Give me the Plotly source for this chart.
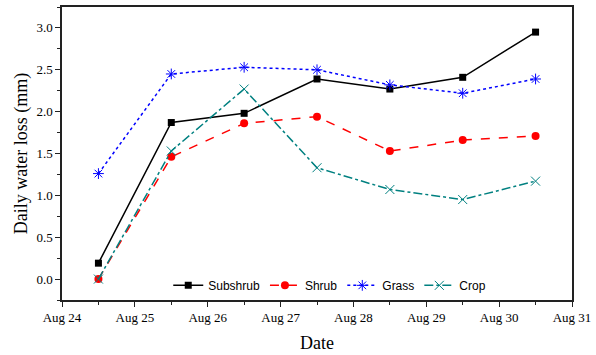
import plotly.graph_objects as go

dates = ["2013-08-24 12:00", "2013-08-25 12:00", "2013-08-26 12:00", "2013-08-27 12:00",
         "2013-08-28 12:00", "2013-08-29 12:00", "2013-08-30 12:00"]
subshrub = [0.19, 1.87, 1.98, 2.39, 2.27, 2.41, 2.95]
shrub = [0.0, 1.46, 1.86, 1.94, 1.53, 1.66, 1.71]
grass = [1.26, 2.45, 2.53, 2.50, 2.32, 2.22, 2.39]
crop = [0.0, 1.53, 2.27, 1.33, 1.07, 0.95, 1.17]

fig = go.Figure()
fig.add_trace(go.Scatter(x=dates, y=subshrub, name="Subshrub", mode="lines+markers",
                         line=dict(color="black", width=1.5, dash="solid"),
                         marker=dict(symbol="square", size=7, color="black")))
fig.add_trace(go.Scatter(x=dates, y=shrub, name="Shrub", mode="lines+markers",
                         line=dict(color="#ff0000", width=1.5, dash="dash"),
                         marker=dict(symbol="circle", size=8, color="#ff0000")))
fig.add_trace(go.Scatter(x=dates, y=grass, name="Grass", mode="lines+markers",
                         line=dict(color="#0000ff", width=1.5, dash="dot"),
                         marker=dict(symbol="asterisk-open", size=9, color="#0000ff",
                                     line=dict(color="#0000ff", width=1))))
fig.add_trace(go.Scatter(x=dates, y=crop, name="Crop", mode="lines+markers",
                         line=dict(color="#008080", width=1.5, dash="dashdot"),
                         marker=dict(symbol="x-thin-open", size=9, color="#008080",
                                     line=dict(color="#008080", width=1))))

fig.update_layout(
    width=596, height=355,
    margin=dict(l=62, r=21, t=5, b=52),
    paper_bgcolor="white", plot_bgcolor="white",
    font=dict(family="Liberation Serif", size=12, color="black"),
    legend=dict(orientation="h", x=0.525, xanchor="center", y=0.05, yanchor="middle",
                bgcolor="rgba(0,0,0,0)", font=dict(family="Liberation Sans", size=12),
                itemwidth=30, tracegroupgap=0),
    xaxis=dict(
        type="date", range=["2013-08-24", "2013-08-31"],
        dtick=86400000, tick0="2013-08-24", tickformat="%b %d",
        ticks="outside", ticklen=5, tickwidth=1.2, tickcolor="#222",
        showline=True, linecolor="#222", linewidth=1.5, mirror=True,
        showgrid=False, zeroline=False,
        minor=dict(dtick=43200000, ticks="outside", ticklen=3, tickcolor="#222", showgrid=False),
        title=dict(text="Date", font=dict(family="Liberation Serif", size=18), standoff=12),
        tickfont=dict(family="Liberation Serif", size=13),
    ),
    yaxis=dict(
        range=[-0.25, 3.25], dtick=0.5, tick0=0, tickformat=".1f",
        ticks="outside", ticklen=5, tickwidth=1.2, tickcolor="#222",
        showline=True, linecolor="#222", linewidth=1.5, mirror=True,
        showgrid=False, zeroline=False,
        minor=dict(dtick=0.25, ticks="outside", ticklen=3, tickcolor="#222", showgrid=False),
        title=dict(text="Daily water loss (mm)", font=dict(family="Liberation Serif", size=18), standoff=4),
        tickfont=dict(family="Liberation Serif", size=13),
    ),
)

fig.write_html("out.html")
